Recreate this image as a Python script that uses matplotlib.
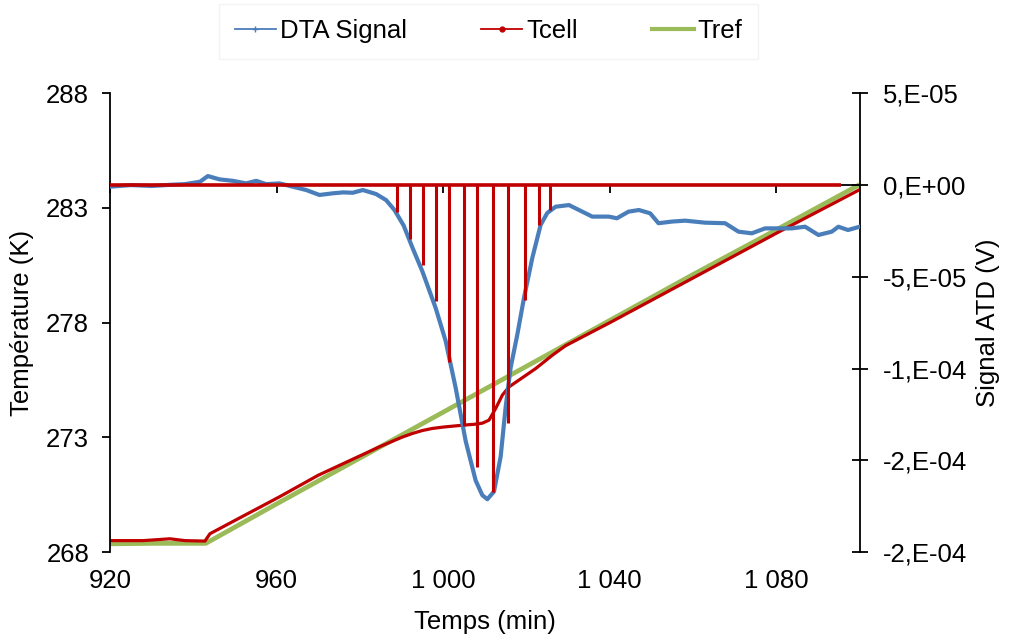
import matplotlib
matplotlib.use('Agg')
import matplotlib.pyplot as plt
from matplotlib.lines import Line2D

plt.rcParams['font.family'] = ['Liberation Sans', 'DejaVu Sans']

# ---------------- data ----------------
dta_time = [920, 925, 930, 935, 938, 941.6, 943.5, 946.3, 949.5, 952.7, 955.1, 957.5,
            960.7, 963.9, 967.1, 970.3, 973.5, 976, 978.3, 980.7, 983.9, 986.3, 988.3,
            990.5, 992.6, 995, 998.2, 1000.6, 1003, 1005.4, 1007.8, 1009.4, 1010.6,
            1012.2, 1013.8, 1015, 1016.2, 1017.8, 1019.4, 1021.4, 1023.4, 1025, 1027,
            1030.2, 1032.6, 1035.8, 1039.8, 1041.7, 1044.5, 1047, 1049.7, 1051.7, 1054.9,
            1058.1, 1062.9, 1067.7, 1070.9, 1074.1, 1077.3, 1083.7, 1086.9, 1090.1,
            1093.3, 1094.9, 1097.2, 1100]
dta_signal = [-0.09e-5, 0.0, -0.05e-5, 0.02e-5, 0.05e-5, 0.18e-5, 0.49e-5, 0.31e-5, 0.23e-5,
              0.09e-5, 0.23e-5, 0.05e-5,
              0.09e-5, -0.09e-5, -0.27e-5, -0.54e-5, -0.45e-5, -0.40e-5, -0.42e-5, -0.27e-5,
              -0.49e-5, -0.82e-5, -1.36e-5,
              -2.2e-5, -3.4e-5, -4.7e-5, -6.7e-5, -8.5e-5, -11.05e-5, -13.95e-5, -16.1e-5,
              -16.9e-5, -17.12e-5,
              -16.7e-5, -14.8e-5, -12.1e-5, -9.95e-5, -8.15e-5, -6.15e-5, -3.97e-5, -2.17e-5,
              -1.52e-5, -1.18e-5,
              -1.09e-5, -1.36e-5, -1.72e-5, -1.72e-5, -1.81e-5, -1.45e-5, -1.36e-5, -1.54e-5,
              -2.08e-5, -1.99e-5,
              -1.94e-5, -2.05e-5, -2.08e-5, -2.54e-5, -2.63e-5, -2.36e-5, -2.36e-5, -2.27e-5,
              -2.72e-5,
              -2.54e-5, -2.27e-5, -2.45e-5, -2.27e-5]

tcell_time = [920, 928, 934.4, 938, 942.8, 944, 950, 960.7, 970, 984.7, 990, 992.6, 995,
              997.4, 1000, 1004.6, 1008, 1009.4, 1011, 1012.6, 1014.2, 1015.8, 1018.2,
              1022.2, 1026.2, 1029.4, 1040, 1060, 1080, 1100]
tcell_temp = [268.50, 268.50, 268.58, 268.50, 268.48, 268.80, 269.38, 270.41, 271.35,
              272.59, 273.0, 273.17, 273.30, 273.39, 273.45, 273.53, 273.58, 273.62,
              273.75, 274.26, 274.84, 275.20, 275.50, 276.0, 276.58, 277.0, 278.0,
              279.95, 281.9, 283.8]

tref_time = [920, 930, 943, 960, 980, 1000, 1020, 1040, 1060, 1080, 1100]
tref_temp = [268.36, 268.38, 268.38, 270.1, 272.1, 274.1, 276.1, 278.1, 280.1, 282.05, 284.02]

spike_time = [989.0, 992.1, 995.2, 998.3, 1001.4, 1005.0, 1008.1, 1012.0, 1015.6,
              1019.6, 1023.0, 1025.6]
spike_signal = [-1.47e-5, -2.93e-5, -4.35e-5, -6.30e-5, -9.62e-5, -1.315e-4, -1.538e-4,
                -1.674e-4, -1.299e-4, -6.25e-5, -2.17e-5, -1.36e-5]
baseline_time = [920, 1095.6]
baseline_signal = [0.0, 0.0]

x_ticks = [920, 960, 1000, 1040, 1080]
x_tick_labels = ['920', '960', '1 000', '1 040', '1 080']
temp_ticks = [268, 273, 278, 283, 288]
signal_ticks = [-2e-4, -1.5e-4, -1e-4, -5e-5, 0, 5e-5]
signal_tick_labels = ['-2,E-04', '-2,E-04', '-1,E-04', '-5,E-05', '0,E+00', '5,E-05']

BLUE = '#4A7EBB'
RED = '#C00000'
GREEN = '#9BBB59'
FS = 18.5

fig = plt.figure(figsize=(10.09, 6.39), dpi=100)
ax = fig.add_axes([0.109, 0.136, 0.743, 0.718])
ax2 = ax.twinx()

# primary axis: temperatures
ax.plot(tref_time, tref_temp, color=GREEN, lw=3.4, solid_capstyle='butt', zorder=2)
ax.plot(tcell_time, tcell_temp, color=RED, lw=2.3, zorder=2.1)

ax.set_xlim(920, 1100)
ax.set_ylim(268, 288)
ax.set_xticks(x_ticks)
ax.set_xticklabels(x_tick_labels)
ax.set_yticks(temp_ticks)
for s in ['top', 'right', 'bottom']:
    ax.spines[s].set_visible(False)
ax.spines['left'].set_linewidth(1.3)
ax.tick_params(axis='x', length=0, pad=12, labelsize=FS)
ax.tick_params(axis='y', direction='out', length=6, width=1.3, pad=9, labelsize=FS)
ax.set_xlabel('Temps (min)', fontsize=FS)
ax.set_ylabel('Température (K)', fontsize=FS)
ax.xaxis.set_label_coords(0.5, -0.127)
ax.yaxis.set_label_coords(-0.101, 0.5)

# secondary axis: DTA signal
ax2.plot(dta_time, dta_signal, color=BLUE, lw=3.0, zorder=2.7)
ax2.vlines(spike_time, 0, spike_signal, color=RED, lw=2.2, zorder=3)
ax2.plot(baseline_time, baseline_signal, color=RED, lw=2.6, zorder=3,
         solid_capstyle='butt')
ax2.set_ylim(-2e-4, 5e-5)
ax2.set_yticks(signal_ticks)
ax2.set_yticklabels(signal_tick_labels)
ax2.spines['top'].set_visible(False)
ax2.spines['left'].set_visible(False)
ax2.spines['right'].set_linewidth(1.3)
ax2.spines['bottom'].set_position(('data', 0))
ax2.spines['bottom'].set_linewidth(1.3)
ax2.xaxis.set_visible(True)
ax2.tick_params(axis='x', bottom=True, top=False, labelbottom=False, labeltop=False,
                direction='out', length=6, width=1.3)
ax2.tick_params(axis='y', direction='inout', length=11, width=1.3, pad=11, labelsize=FS)
ax2.set_ylabel('Signal ATD (V)', fontsize=FS, rotation=90)
ax2.yaxis.set_label_coords(1.155, 0.5)

handles = [
    Line2D([], [], color=BLUE, lw=1.3, marker='+', markersize=4),
    Line2D([], [], color=RED, lw=1.3, marker='o', markersize=3.5),
    Line2D([], [], color=GREEN, lw=3.0),
]
leg = ax.legend(handles, ['DTA Signal', 'Tcell', 'Tref'], loc='center',
                bbox_to_anchor=(0.505, 1.135), ncol=3, fontsize=FS, frameon=True,
                fancybox=False, handlelength=1.6, handletextpad=0.15,
                columnspacing=2.9, borderpad=0.6)
leg.get_frame().set_edgecolor('#F0F0F0')
leg.get_frame().set_linewidth(1.0)

fig.savefig('out.png', dpi=100)
